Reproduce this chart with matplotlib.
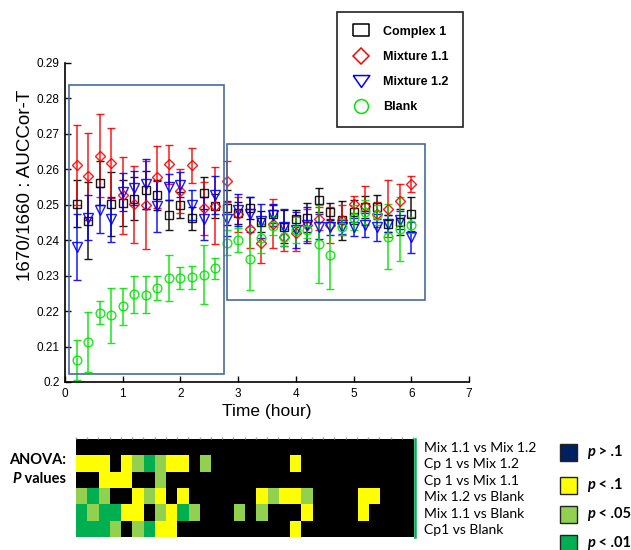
import numpy as np
import matplotlib.pyplot as plt
from matplotlib.colors import ListedColormap
from matplotlib.lines import Line2D
from matplotlib.patches import Rectangle

W, H = 631, 550

# time points (hour)
times = [0.2, 0.4, 0.6, 0.8, 1.0, 1.2, 1.4, 1.6, 1.8, 2.0,
         2.2, 2.4, 2.6, 2.8, 3.0, 3.2, 3.4, 3.6, 3.8, 4.0,
         4.2, 4.4, 4.6, 4.8, 5.0, 5.2, 5.4, 5.6, 5.8, 6.0]

cp1 = [0.2503, 0.2455, 0.2561, 0.2503, 0.2506, 0.2517, 0.2541, 0.2527, 0.2471, 0.2500,
       0.2462, 0.2533, 0.2497, 0.2492, 0.2477, 0.2491, 0.2452, 0.2475, 0.2438, 0.2461,
       0.2464, 0.2513, 0.2481, 0.2457, 0.2480, 0.2494, 0.2494, 0.2447, 0.2452, 0.2473]
cp1_err = [0.0066, 0.0109, 0.0063, 0.0090, 0.0065, 0.0060, 0.0053, 0.0042, 0.0043, 0.0037,
           0.0033, 0.0045, 0.0033, 0.0050, 0.0030, 0.0030, 0.0030, 0.0025, 0.0047, 0.0023,
           0.0042, 0.0033, 0.0024, 0.0055, 0.0033, 0.0030, 0.0033, 0.0023, 0.0037, 0.0048]

mix11 = [0.2612, 0.2580, 0.2638, 0.2618, 0.2527, 0.2501, 0.2499, 0.2578, 0.2615, 0.2539,
         0.2611, 0.2490, 0.2497, 0.2566, 0.2473, 0.2432, 0.2391, 0.2447, 0.2410, 0.2419,
         0.2443, 0.2461, 0.2443, 0.2457, 0.2501, 0.2497, 0.2473, 0.2489, 0.2511, 0.2559]
mix11_err = [0.0112, 0.0123, 0.0117, 0.0100, 0.0109, 0.0109, 0.0125, 0.0088, 0.0055, 0.0063,
             0.0050, 0.0075, 0.0109, 0.0058, 0.0050, 0.0055, 0.0054, 0.0070, 0.0040, 0.0050,
             0.0046, 0.0033, 0.0050, 0.0042, 0.0024, 0.0055, 0.0035, 0.0080, 0.0048, 0.0023]

mix12 = [0.2380, 0.2464, 0.2485, 0.2459, 0.2536, 0.2548, 0.2559, 0.2496, 0.2550, 0.2557,
         0.2499, 0.2461, 0.2527, 0.2461, 0.2485, 0.2473, 0.2454, 0.2471, 0.2436, 0.2429,
         0.2443, 0.2438, 0.2438, 0.2438, 0.2438, 0.2443, 0.2436, 0.2447, 0.2457, 0.2408]
mix12_err = [0.0093, 0.0064, 0.0065, 0.0064, 0.0054, 0.0048, 0.0070, 0.0072, 0.0037, 0.0035,
             0.0042, 0.0060, 0.0053, 0.0050, 0.0046, 0.0050, 0.0048, 0.0030, 0.0052, 0.0050,
             0.0050, 0.0035, 0.0023, 0.0020, 0.0025, 0.0035, 0.0037, 0.0025, 0.0025, 0.0043]

blank = [0.2062, 0.2112, 0.2196, 0.2188, 0.2214, 0.2248, 0.2246, 0.2264, 0.2294, 0.2293,
         0.2295, 0.2303, 0.2321, 0.2393, 0.2401, 0.2348, 0.2405, 0.2441, 0.2408, 0.2429,
         0.2429, 0.2389, 0.2357, 0.2438, 0.2463, 0.2480, 0.2471, 0.2410, 0.2431, 0.2443]
blank_err = [0.0056, 0.0085, 0.0032, 0.0077, 0.0052, 0.0052, 0.0052, 0.0034, 0.0065, 0.0032,
             0.0033, 0.0084, 0.0030, 0.0036, 0.0033, 0.0089, 0.0040, 0.0026, 0.0025, 0.0037,
             0.0023, 0.0110, 0.0094, 0.0023, 0.0035, 0.0033, 0.0028, 0.0092, 0.0091, 0.0023]

series_names = ['Complex 1', 'Mixture 1.1', 'Mixture 1.2', 'Blank']

# ANOVA significance per time point: 0 p>.1, 1 p<.1, 2 p<.05, 3 p<.01
comparisons = ['Mix 1.1 vs Mix 1.2', 'Cp 1 vs Mix 1.2', 'Cp 1 vs Mix 1.1',
               'Mix 1.2 vs Blank', 'Mix 1.1 vs Blank', 'Cp1 vs Blank']
sig_mix11_mix12 = [0] * 30
sig_cp1_mix12 = [1, 1, 1, 0, 1, 2, 3, 2, 1, 1, 0, 2, 0, 0, 0, 0, 0, 0, 0, 1,
                 0, 0, 0, 0, 0, 0, 0, 0, 0, 0]
sig_cp1_mix11 = [0, 0, 1, 1, 1, 0, 0, 2, 0, 0, 0, 0, 0, 0, 0, 0, 0, 0, 0, 0,
                 0, 0, 0, 0, 0, 0, 0, 0, 0, 0]
sig_mix12_blank = [2, 3, 2, 0, 0, 1, 2, 1, 0, 1, 0, 0, 0, 0, 0, 0, 1, 2, 1, 1,
                   2, 0, 0, 0, 0, 1, 1, 0, 0, 0]
sig_mix11_blank = [3, 2, 3, 3, 1, 1, 0, 2, 1, 3, 2, 0, 0, 0, 2, 0, 2, 0, 0, 0,
                   1, 0, 0, 0, 0, 1, 0, 0, 0, 0]
sig_cp1_blank = [3, 3, 3, 2, 0, 2, 3, 1, 1, 0, 0, 0, 0, 0, 0, 0, 0, 0, 0, 1,
                 0, 0, 0, 0, 0, 0, 0, 0, 0, 0]
p_labels = ['> .1', '< .1', '< .05', '< .01']

# highlighted regions (hours, ratio)
box_early = (0.065, 2.76, 0.2023, 0.2837)
box_late = (2.81, 6.24, 0.2230, 0.2671)


def fx(x):
    return x / W


def fy(y):
    return 1 - y / H


plt.rcParams['font.family'] = ['Liberation Sans', 'DejaVu Sans']
side_font = ['Lato', 'DejaVu Sans']
fig = plt.figure(figsize=(W / 100, H / 100), dpi=100)

ax = fig.add_axes([fx(65), fy(382), 404 / W, 319 / H])

colors = ['black', '#ff0000', '#0000ff', '#00e600']
markers = ['s', 'D', 'v', 'o']
msizes = [6.0, 4.8, 7.0, 6.3]
data = [(cp1, cp1_err), (mix11, mix11_err), (mix12, mix12_err), (blank, blank_err)]
for (vals, errs), c, m, ms in zip(data, colors, markers, msizes):
    ax.errorbar(times, vals, yerr=errs, fmt=m, ms=ms, mfc='none', mec=c, mew=1.0,
                ecolor=c, elinewidth=1.1, capsize=3, capthick=1.1, alpha=0.9)

for x0, x1, y0, y1 in [box_early, box_late]:
    ax.add_patch(Rectangle((x0, y0), x1 - x0, y1 - y0, fill=False,
                           edgecolor='#4a6aa0', lw=1.2, clip_on=False, zorder=5))

ax.set_xlim(0, 7)
ax.set_ylim(0.2, 0.29)
ax.set_xticks(range(8))
yt = np.round(np.arange(0.2, 0.2901, 0.01), 2)
ax.set_yticks(yt)
ax.set_yticklabels([f'{v:g}' for v in yt])
ax.spines['top'].set_visible(False)
ax.spines['right'].set_visible(False)
for s in ['left', 'bottom']:
    ax.spines[s].set_linewidth(1.2)
ax.tick_params(direction='in', length=4, width=1, labelsize=8.5, pad=4)
ax.set_xlabel('Time (hour)', fontsize=12.5, labelpad=3)
ax.set_ylabel('1670/1660 : AUCCor-T', fontsize=13.5)
ax.yaxis.set_label_coords(-0.076, 0.617)

# legend
handles = [
    Line2D([], [], ls='none', marker=[(-1.5, -1), (1.5, -1), (1.5, 1), (-1.5, 1), (-1.5, -1)],
           ms=12, mfc='none', mec=colors[0], mew=1.1),
    Line2D([], [], ls='none', marker='D', ms=8, mfc='none', mec=colors[1], mew=1.1),
    Line2D([], [], ls='none', marker=[(-1.4, 1), (1.4, 1), (0, -1), (-1.4, 1)],
           ms=12, mfc='none', mec=colors[2], mew=1.1),
    Line2D([], [], ls='none', marker='o', ms=10, mfc='none', mec=colors[3], mew=1.1),
]
leg = ax.legend(handles, series_names, loc='upper left',
                bbox_to_anchor=(fx(337), fy(12)), bbox_transform=fig.transFigure,
                fancybox=False, edgecolor='#222222', framealpha=1,
                prop={'weight': 'bold', 'size': 9}, borderpad=1.1,
                labelspacing=1.05, handlelength=1.6, handletextpad=1.0,
                borderaxespad=0)
leg.get_frame().set_linewidth(1.2)

# ANOVA heat map
sig = np.array([sig_mix11_mix12, sig_cp1_mix12, sig_cp1_mix11,
                sig_mix12_blank, sig_mix11_blank, sig_cp1_blank])
cell_colors = ['black', '#ffff00', '#92d050', '#00b050']
axh = fig.add_axes([fx(76), fy(537), 337 / W, 98 / H])
axh.imshow(sig, cmap=ListedColormap(cell_colors), vmin=-0.5, vmax=3.5,
           aspect='auto', interpolation='nearest')
n = sig.shape[1]
axh.axvline(n - 0.5 + 0.2, color='#00b050', lw=1.8, clip_on=False)
axh.set_xlim(-0.5, n - 0.5)
axh.set_ylim(len(comparisons) - 0.5, -0.5)
axh.set_xticks(np.arange(-0.5, n, 1))
axh.tick_params(axis='x', top=True, bottom=False, labeltop=False, labelbottom=False,
                length=1.5, width=1, color='#999999', direction='out')
axh.yaxis.tick_right()
axh.set_yticks(range(len(comparisons)))
axh.set_yticklabels(comparisons, fontsize=10, family=side_font)
axh.tick_params(axis='y', length=0, pad=8)
for lab in axh.get_yticklabels():
    lab.set_ha('left')
    lab.set_va('center_baseline')
for s in axh.spines.values():
    s.set_visible(False)

# ANOVA label
fig.text(fx(66), fy(460), 'ANOVA:', ha='right', va='center', weight='bold',
         fontsize=10.5, family=side_font)
vt = fig.text(fx(66), fy(479), ' values', ha='right', va='center', weight='bold',
              fontsize=10.5, family=side_font)
axh.annotate('P', xy=(0, 0), xycoords=vt, ha='right', va='bottom', weight='bold',
             style='italic', fontsize=10.5, family=side_font, annotation_clip=False)

# p-value key
key_colors = ['#002060', '#ffff00', '#92d050', '#00b050']
key_y = [452, 485, 514, 543]
for c, lab, yy in zip(key_colors, p_labels, key_y):
    fig.add_artist(Rectangle((fx(560), fy(yy + 8.5)), 17 / W, 17 / H, facecolor=c,
                             edgecolor='#222222', lw=1.0, transform=fig.transFigure))
    pt = fig.text(fx(587), fy(yy), 'p', ha='left', va='center', weight='bold',
                  style='italic', fontsize=10.5, family=side_font)
    axh.annotate(' ' + lab, xy=(1, 0), xycoords=pt, ha='left', va='bottom',
                 weight='bold', fontsize=10.5, family=side_font, annotation_clip=False)

fig.savefig('out.png', dpi=100)
